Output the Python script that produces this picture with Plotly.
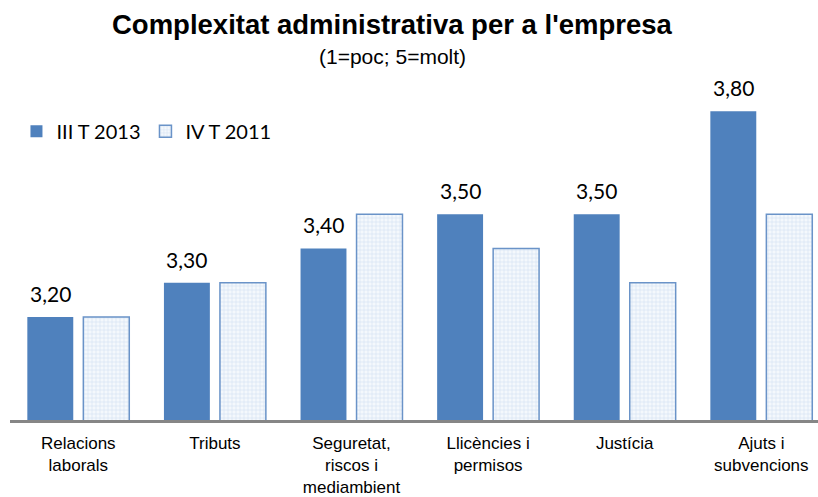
import plotly.graph_objects as go

categories = ["Relacions<br>laborals", "Tributs", "Seguretat,<br>riscos i<br>mediambient",
              "Llicències i<br>permisos", "Justícia", "Ajuts i<br>subvencions"]
series_names = ["III T 2013", "IV T 2011"]
values_2013 = [3.20, 3.30, 3.40, 3.50, 3.50, 3.80]
values_2011 = [3.20, 3.30, 3.50, 3.40, 3.30, 3.50]
labels_2013 = [f"{v:.2f}".replace(".", ",") for v in values_2013]

x = list(range(len(categories)))

BARGAP = 0.18
BARGROUPGAP = 0.18
slot = (1 - BARGAP) / 2          # width of one bar slot within a category
off_2013 = -slot / 2             # centre offset of the first series

fig = go.Figure()
fig.add_trace(go.Bar(
    x=x, y=values_2013, name=series_names[0],
    marker=dict(color="#4F81BD", line=dict(width=0)),
))
fig.add_trace(go.Bar(
    x=x, y=values_2011, name=series_names[1],
    marker=dict(color="#E6EEF8", line=dict(color="#6A93C8", width=1.5),
                pattern=dict(shape="+", fgcolor="#A9C2E3", bgcolor="#F4F8FC", size=4, solidity=0.25)),
))

annotations = []
for i, (v, lab) in enumerate(zip(values_2013, labels_2013)):
    annotations.append(dict(x=i + off_2013, y=v, xref="x", yref="y", text=lab,
                            showarrow=False, yanchor="bottom", xanchor="center", yshift=9,
                            font=dict(family="Lato", size=21, color="#000000")))

fig.update_layout(
    width=818, height=497,
    margin=dict(l=10, r=0, t=60, b=72),
    paper_bgcolor="white", plot_bgcolor="white",
    barmode="group", bargap=BARGAP, bargroupgap=BARGROUPGAP,
    showlegend=True,
    legend=dict(orientation="h", x=0.008, y=0.802, xanchor="left", yanchor="middle",
                font=dict(family="Lato", size=20, color="#000000"),
                bgcolor="rgba(0,0,0,0)", entrywidth=84, traceorder="normal"),
    xaxis=dict(range=[-0.5, 5.415], tickvals=x, ticktext=categories,
               showline=True, linecolor="#868686", linewidth=2.5,
               showgrid=False, zeroline=False, ticks="", ticklabelstandoff=6,
               tickfont=dict(family="Liberation Sans", size=17, color="#000000")),
    yaxis=dict(range=[2.9, 3.9495], visible=False, showgrid=False, zeroline=False),
)

pw = 818 - 10
ph = 497 - 60 - 72
def px_to_paper(px_x, px_y):
    return (px_x - 10) / pw, (497 - 72 - px_y) / ph

tx, ty = px_to_paper(392, 24)
sx, sy = px_to_paper(392, 56)
annotations.append(dict(text="<b>Complexitat administrativa per a l'empresa</b>", x=tx, y=ty,
                        xref="paper", yref="paper", showarrow=False,
                        font=dict(family="Liberation Sans", size=27.5, color="#000000"),
                        xanchor="center", yanchor="middle"))
annotations.append(dict(text="(1=poc; 5=molt)", x=sx, y=sy, xref="paper", yref="paper",
                        showarrow=False,
                        font=dict(family="Liberation Sans", size=21, color="#000000"),
                        xanchor="center", yanchor="middle"))
fig.update_layout(annotations=annotations)

fig.write_html("out.html", config={"displayModeBar": False},
               post_script="document.body.style.margin='0';document.body.style.overflow='hidden';")
